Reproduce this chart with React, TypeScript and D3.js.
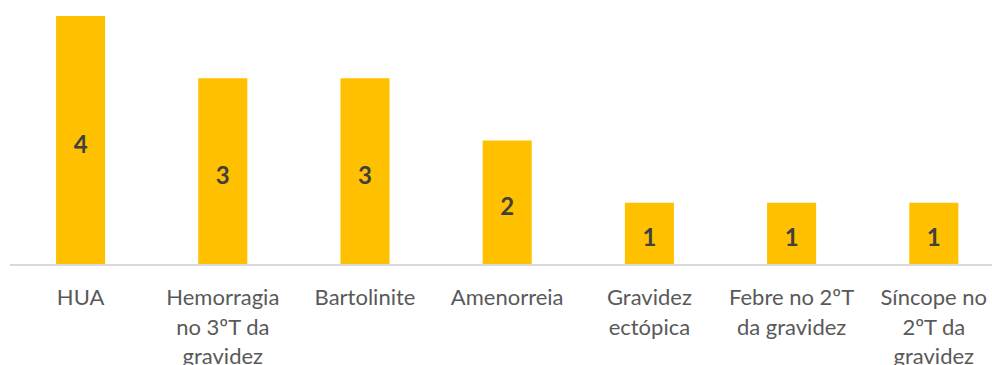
import React from "react";
import * as d3 from "d3";

const categories = [
  "HUA",
  "Hemorragia\nno 3ºT da\ngravidez",
  "Bartolinite",
  "Amenorreia",
  "Gravidez\nectópica",
  "Febre no 2ºT\nda gravidez",
  "Síncope no\n2ºT da\ngravidez",
];
const values = [4, 3, 3, 2, 1, 1, 1];

const W = 992;
const H = 365;
const FONT = "Lato, 'Open Sans', sans-serif";

export default function App() {
  const x = d3
    .scaleBand<string>()
    .domain(categories)
    .range([9.5, 9.5 + 7 * 142.2])
    .paddingInner(0.655)
    .paddingOuter(0.3275);
  const y = d3.scaleLinear().domain([0, 4]).range([265, 16]);

  return (
    <svg
      width={W}
      height={H}
      style={{ position: "fixed", left: 0, top: 0, background: "#fff" }}
      fontFamily={FONT}
    >
      {categories.map((c, i) => {
        const bx = x(c)!;
        const bw = x.bandwidth();
        const top = y(values[i]);
        const bottom = y(0);
        return (
          <g key={c}>
            <rect x={bx} y={top} width={bw} height={bottom - top} fill="#FFC000" />
            <text
              x={bx + bw / 2}
              y={(top + bottom) / 2 + 2.5}
              textAnchor="middle"
              dominantBaseline="central"
              fontSize={24}
              fontWeight="bold"
              fill="#404040"
            >
              {values[i]}
            </text>
          </g>
        );
      })}
      <line x1={10} x2={W} y1={265} y2={265} stroke="#D9D9D9" strokeWidth={2} />
      {categories.map((c) => {
        const cx = x(c)! + x.bandwidth() / 2;
        return (
          <text
            key={"l" + c}
            x={cx}
            textAnchor="middle"
            fontSize={22}
            fill="#595959"
          >
            {c.split("\n").map((ln, j) => (
              <tspan key={j} x={cx} y={305 + j * 29.5}>
                {ln}
              </tspan>
            ))}
          </text>
        );
      })}
    </svg>
  );
}
